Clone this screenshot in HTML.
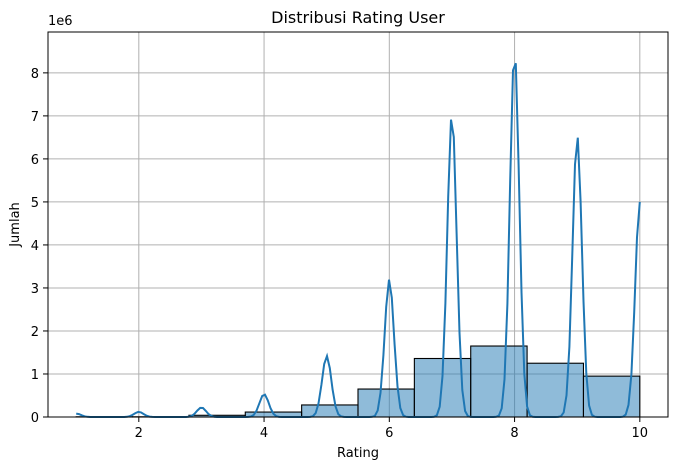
<!DOCTYPE html>
<html><head><meta charset="utf-8"><style>
body{margin:0;background:#fff;font-family:"Liberation Sans","DejaVu Sans",sans-serif}
</style></head><body>
<svg id="chart" width="678" height="470" xmlns="http://www.w3.org/2000/svg" font-family="'DejaVu Sans','Liberation Sans',sans-serif">
<g id="grid"></g><g id="bars"></g><g id="kde"></g><g id="axes"></g>
</svg>
<script>
const binEdges=[1,1.9,2.8,3.7,4.6,5.5,6.4,7.3,8.2,9.1,10];
const binCounts=[0.005,0.005,0.04,0.115,0.28,0.65,1.36,1.65,1.25,0.95];
const peakRatings=[1,2,3,4,5,6,7,8,9,10];
const peakHeights=[0.08,0.12,0.22,0.53,1.42,3.2,7.05,8.52,6.55,5.0];
const xTicks=[2,4,6,8,10];
const yTicks=[0,1,2,3,4,5,6,7,8];
const L=48,R=668,T=32,B=417,X0=0.55,X1=10.45,Y0=0,Y1=8.95;
const sx=v=>L+(v-X0)/(X1-X0)*(R-L);
const sy=v=>B-(v-Y0)/(Y1-Y0)*(B-T);
const NS="http://www.w3.org/2000/svg";
function mk(tag,attrs,parent){const e=document.createElementNS(NS,tag);for(const k in attrs)e.setAttribute(k,attrs[k]);parent.appendChild(e);return e;}
const grid=document.getElementById('grid'),bars=document.getElementById('bars'),kde=document.getElementById('kde'),axes=document.getElementById('axes');
xTicks.forEach(t=>{const l=mk('line',{x1:sx(t),x2:sx(t),y1:T,y2:B,stroke:'#b0b0b0','stroke-width':1},grid);


const tk=mk('line',{x1:sx(t),x2:sx(t),y1:B,y2:B+5,stroke:'#000','stroke-width':1},axes);


const tx=mk('text',{x:sx(t),y:B+20,'font-size':13,'text-anchor':'middle'},axes);tx.textContent=t;

});
yTicks.forEach(t=>{const l=mk('line',{x1:L,x2:R,y1:sy(t),y2:sy(t),stroke:'#b0b0b0','stroke-width':1},grid);


const tk=mk('line',{x1:L-5,x2:L,y1:sy(t),y2:sy(t),stroke:'#000','stroke-width':1},axes);


const tx=mk('text',{x:L-9,y:sy(t)+5,'font-size':13,'text-anchor':'end'},axes);tx.textContent=t;

});
binCounts.forEach((c,i)=>{const x=sx(binEdges[i]),w=sx(binEdges[i+1])-x;
const r=mk('rect',{x:x,y:sy(c),width:w,height:sy(0)-sy(c),fill:'rgba(31,119,180,0.5)',stroke:'#000','stroke-width':1.1},bars);

});
const sig=0.075;let d='';
for(let i=0;i<=200;i++){const x=1+9*i/200;let y=0;peakRatings.forEach((p,j)=>{y+=peakHeights[j]*Math.exp(-0.5*((x-p)/sig)**2);});d+=(i?'L':'M')+sx(x).toFixed(1)+','+sy(y).toFixed(1);}
const path=mk('path',{d:d,fill:'none',stroke:'#1f77b4','stroke-width':2},kde);


const frame=mk('rect',{x:L,y:T,width:R-L,height:B-T,fill:'none',stroke:'#000','stroke-width':1},axes);


const texts=[['chart-title','Distribusi Rating User',(L+R)/2,T-9,16,'middle',''],['x-axis-title','Rating',(L+R)/2,457,13,'middle',''],['y-axis-offset','1e6',L,T-7,13,'start',''],['y-axis-title','Jumlah',19,(T+B)/2,13,'middle','rotate(-90 19 '+((T+B)/2)+')']];
texts.forEach(a=>{const t=mk('text',{x:a[2],y:a[3],'font-size':a[4],'text-anchor':a[5]},axes);if(a[6])t.setAttribute('transform',a[6]);t.textContent=a[1];

});
</script>
</body></html>
